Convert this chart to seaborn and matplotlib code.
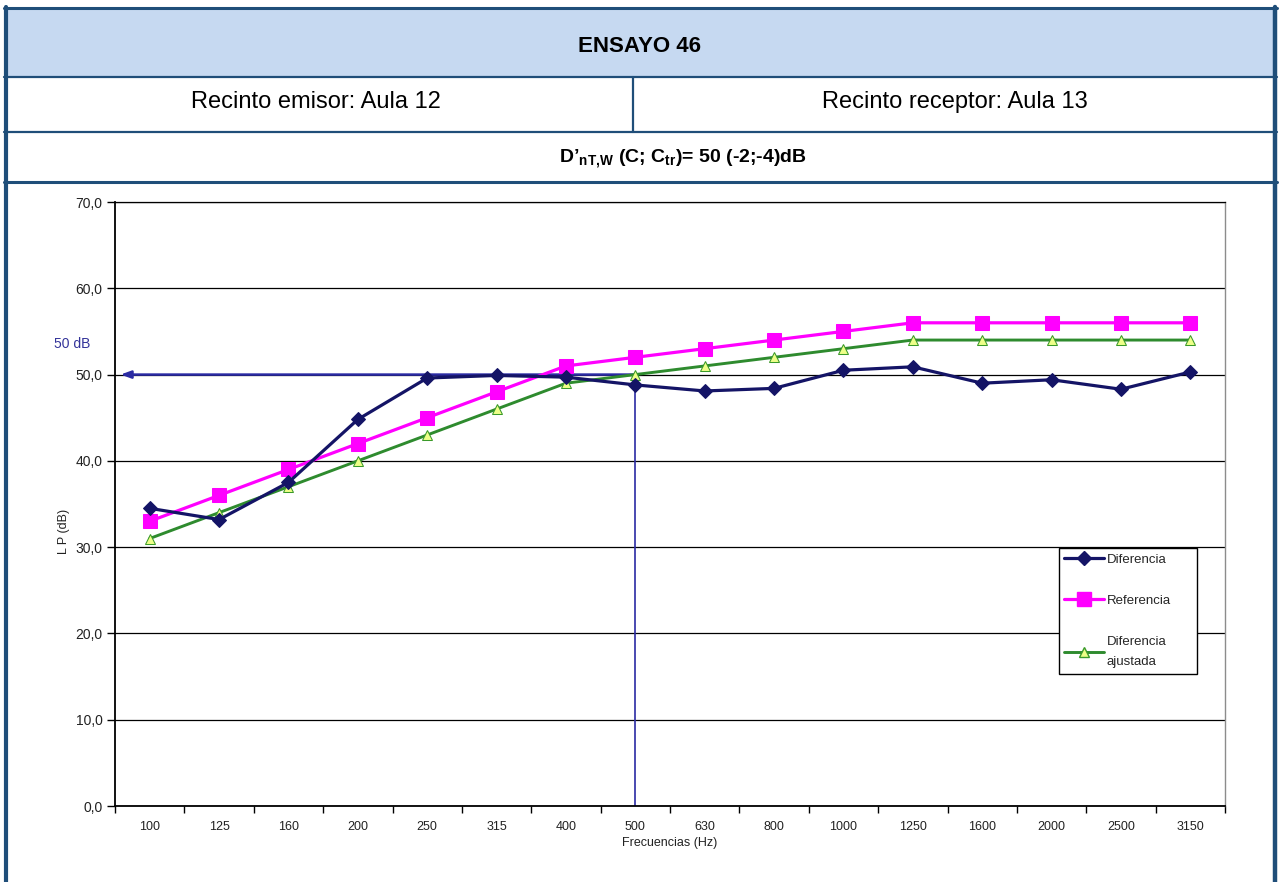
import numpy as np
import pandas as pd
import matplotlib
matplotlib.use("Agg")
import matplotlib.pyplot as plt
from matplotlib.patches import Rectangle
from matplotlib.lines import Line2D
import seaborn as sns

# ---- data -------------------------------------------------------------
frecuencias = ["100", "125", "160", "200", "250", "315", "400", "500",
               "630", "800", "1000", "1250", "1600", "2000", "2500", "3150"]
diferencia = [34.5, 33.2, 37.5, 44.8, 49.6, 49.9, 49.7, 48.8,
              48.1, 48.4, 50.5, 50.9, 49.0, 49.4, 48.3, 50.3]
referencia = [33, 36, 39, 42, 45, 48, 51, 52,
              53, 54, 55, 56, 56, 56, 56, 56]
diferencia_ajustada = [31, 34, 37, 40, 43, 46, 49, 50,
                       51, 52, 53, 54, 54, 54, 54, 54]
y_ticks = [0, 10, 20, 30, 40, 50, 60, 70]
indice_global = 50          # D'nT,w in dB
frecuencia_indice = "500"   # frequency where the index is read

titulo = "ENSAYO 46"
emisor = "Recinto emisor: Aula 12"
receptor = "Recinto receptor: Aula 13"
resultado = r"D’$_{\mathbf{nT{,}W}}$ (C; C$_{\mathbf{tr}}$)= 50 (-2;-4)dB"

# ---- style ------------------------------------------------------------
sns.set_style("white")
plt.rcParams["font.family"] = ["Liberation Sans", "DejaVu Sans"]
plt.rcParams["mathtext.fontset"] = "custom"
plt.rcParams["mathtext.rm"] = "Liberation Sans"
plt.rcParams["mathtext.bf"] = "Liberation Sans:bold"

W, H = 1279, 882
fig = plt.figure(figsize=(W / 100, H / 100), dpi=100)
fig.patch.set_facecolor("white")


def fx(px):
    return px / W


def fy(py):
    return 1 - py / H


borde = "#1F4E79"

# header table
fig.add_artist(Rectangle((fx(6), fy(77)), fx(1274) - fx(6), fy(8) - fy(77),
                         transform=fig.transFigure, facecolor="#C6D9F1",
                         edgecolor="none", zorder=0))
for y in (8, 77, 132, 182):
    fig.add_artist(Line2D([fx(4), fx(1277)], [fy(y), fy(y)],
                          transform=fig.transFigure, color=borde,
                          lw=2.2 if y in (8, 182) else 1.6))
for x, w in ((6, 3.0), (1275, 3.2)):
    fig.add_artist(Line2D([fx(x), fx(x)], [fy(7), fy(882)],
                          transform=fig.transFigure, color=borde, lw=w))
fig.add_artist(Line2D([fx(633), fx(633)], [fy(77), fy(132)],
                      transform=fig.transFigure, color=borde, lw=1.6))

fig.text(fx(640), fy(46), titulo, ha="center", va="center",
         fontsize=16, fontweight="bold", color="black")
fig.text(fx(316), fy(102), emisor, ha="center", va="center",
         fontsize=17, color="black")
fig.text(fx(955), fy(102), receptor, ha="center", va="center",
         fontsize=17, color="black")
fig.text(fx(683), fy(159), resultado, ha="center", va="center",
         fontsize=14, fontweight="bold", color="black")

# ---- chart ------------------------------------------------------------
ax = fig.add_axes([fx(115), fy(806), fx(1225) - fx(115), fy(202) - fy(806)])
ax.set_facecolor("white")

pos = np.arange(len(frecuencias))
df = pd.DataFrame({"pos": pos, "Diferencia": diferencia,
                   "Referencia": referencia,
                   "Diferencia ajustada": diferencia_ajustada})

estilos = {
    "Diferencia": dict(color="#141466", marker="D", markersize=7,
                       markerfacecolor="#141466", markeredgecolor="#141466",
                       linewidth=2.3),
    "Referencia": dict(color="#FF00FF", marker="s", markersize=9.5,
                       markerfacecolor="#FF00FF", markeredgecolor="#FF00FF",
                       linewidth=2.3),
    "Diferencia ajustada": dict(color="#2E8B2E", marker="^", markersize=6.5,
                                markerfacecolor="#EEFF88",
                                markeredgecolor="#3A9A2A", linewidth=2.1),
}

# reference index line with arrow and drop line at 500 Hz
idx = frecuencias.index(frecuencia_indice)
azul = "#2B2BA3"
ax.plot([idx, idx], [0, indice_global], color=azul, lw=1.2, zorder=2)
ax.annotate("", xy=(-0.42, indice_global), xytext=(idx, indice_global),
            arrowprops=dict(arrowstyle="-|>,head_length=0.6,head_width=0.22",
                            color=azul, lw=1.8, shrinkA=0, shrinkB=0),
            zorder=2)
ax.text(-0.039, 53.5, f"{indice_global} dB", transform=ax.get_yaxis_transform(),
        ha="center", va="center", fontsize=10, color="#333399")

orden = ["Referencia", "Diferencia ajustada", "Diferencia"]
for nombre in orden:
    sns.lineplot(data=df, x="pos", y=nombre, ax=ax, zorder=4, **estilos[nombre])

ax.set_xlim(-0.5, len(frecuencias) - 0.5)
ax.set_ylim(0, 70)

# axes, ticks and grid
ax.set_yticks(y_ticks)
ax.set_yticklabels([f"{v:.1f}".replace(".", ",") for v in y_ticks])
ax.set_xticks(pos)
ax.set_xticklabels(frecuencias)
ax.set_xticks(np.arange(-0.5, len(frecuencias), 1), minor=True)
ax.tick_params(axis="y", direction="out", length=6, width=1, color="black",
               labelsize=10, labelcolor="#222222", pad=3, left=True)
ax.tick_params(axis="x", which="major", length=0, labelsize=9,
               labelcolor="#222222", pad=11)
ax.tick_params(axis="x", which="minor", direction="out", length=5, width=1,
               color="black", bottom=True)
ax.yaxis.grid(True, color="black", lw=0.9)
ax.xaxis.grid(False)
ax.set_axisbelow(True)

for lado in ("left", "bottom"):
    ax.spines[lado].set_color("black")
    ax.spines[lado].set_linewidth(1.3)
ax.spines["top"].set_color("black")
ax.spines["top"].set_linewidth(0.9)
ax.spines["right"].set_color("#8C8C8C")
ax.spines["right"].set_linewidth(1.0)

ax.set_xlabel("Frecuencias (Hz)", fontsize=9, color="#222222")
ax.xaxis.set_label_coords(0.5, -(837 - 806) / 604)
ax.set_ylabel("L P (dB)", fontsize=9, color="#222222")
ax.yaxis.set_label_coords(-(115 - 70) / 1110, 0.455)

# legend
handles = [Line2D([], [], **estilos[n]) for n in
           ["Diferencia", "Referencia", "Diferencia ajustada"]]
labels = ["Diferencia", "Referencia", "Diferencia\najustada"]
leg = ax.legend(handles, labels, loc="upper left",
                bbox_to_anchor=(0.8505, 0.217, 0.1245, 0.21), mode="expand",
                frameon=True, fancybox=False, edgecolor="black", framealpha=1,
                fontsize=9.5, handlelength=3.0, handletextpad=0.2,
                labelspacing=2.2, borderpad=0.4, borderaxespad=0)
leg.get_frame().set_linewidth(1.0)
for t in leg.get_texts():
    t.set_linespacing(1.95)

fig.savefig("out.png", dpi=100, facecolor="white")
